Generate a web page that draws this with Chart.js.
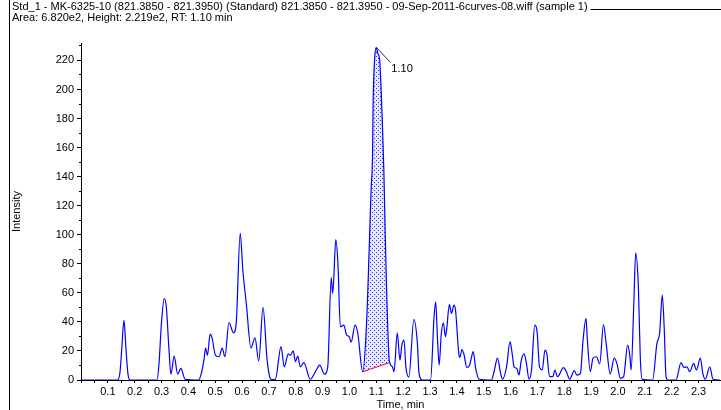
<!DOCTYPE html>
<html><head><meta charset="utf-8">
<script src="https://cdn.jsdelivr.net/npm/chart.js@4.4.0/dist/chart.umd.min.js"></script>
<style>html,body{margin:0;padding:0;background:#fff;overflow:hidden}#wrap{width:721px;height:410px;position:relative}</style>
</head><body><div id="wrap"><canvas id="c" width="721" height="410"></canvas></div>
<script>
const titleLine1 = "Std_1 - MK-6325-10 (821.3850 - 821.3950) (Standard) 821.3850 - 821.3950 - 09-Sep-2011-6curves-08.wiff (sample 1)";
const titleLine2 = "Area: 6.820e2, Height: 2.219e2, RT: 1.10 min";
const xAxisTitle = "Time, min";
const yAxisTitle = "Intensity";
const peakLabel = "1.10";
const peakRT = 1.10;

const times = [0,0.135,0.145,0.152,0.160,0.168,0.175,0.182,0.283,0.290,0.300,0.310,0.318,0.327,0.335,0.347,0.360,0.372,0.388,0.438,0.450,0.458,0.464,0.471,0.481,0.488,0.501,0.514,0.526,0.536,0.551,0.568,0.578,0.593,0.603,0.616,0.633,0.648,0.662,0.678,0.693,0.703,0.710,0.724,0.745,0.757,0.772,0.780,0.790,0.799,0.807,0.817,0.830,0.854,0.873,0.889,0.907,0.919,0.932,0.937,0.941,0.949,0.957,0.966,0.979,0.989,0.999,1.006,1.021,1.031,1.049,1.063,1.081,1.086,1.088,1.094,1.100,1.105,1.112,1.118,1.123,1.128,1.132,1.138,1.147,1.150,1.160,1.166,1.178,1.188,1.195,1.203,1.210,1.221,1.240,1.253,1.259,1.271,1.302,1.315,1.321,1.328,1.334,1.342,1.350,1.357,1.362,1.372,1.380,1.389,1.395,1.407,1.411,1.419,1.426,1.437,1.447,1.452,1.461,1.470,1.483,1.529,1.540,1.551,1.563,1.570,1.585,1.598,1.606,1.613,1.623,1.631,1.640,1.650,1.658,1.669,1.678,1.690,1.698,1.708,1.718,1.728,1.735,1.745,1.757,1.765,1.775,1.797,1.808,1.820,1.837,1.847,1.860,1.870,1.881,1.886,1.897,1.907,1.920,1.932,1.946,1.956,1.971,1.986,1.996,2.009,2.021,2.036,2.044,2.049,2.059,2.066,2.076,2.083,2.090,2.129,2.145,2.155,2.165,2.172,2.179,2.185,2.216,2.235,2.245,2.257,2.267,2.282,2.292,2.307,2.316,2.325,2.342,2.354,2.380];
const intensities = [0,0,5,22,41,20,4,0,0,10,40,56,50,23,4,16.5,4,8,0.5,0,6,14,22,17,31.6,29,17,16,22,16,39.4,32.5,39,101,75,52,22,29,13,50,14,2,0.3,0.5,23,9,18,17,20,12.6,16.5,9,12,0.5,5.7,10.3,4,9,70.6,59.6,68,96.7,80,36.7,37.8,31,29.8,26,37.8,32,5.7,36.7,133,156,190,222,229,225,221,199,174,144,110,64,16,12,9,5.7,32.5,13.7,24,27.5,9,2,41.7,25,4.5,0,0,43.5,53.8,27.5,10.3,32,39.4,29.8,34.8,52,45.8,51.5,48,18.3,15.5,21,18,8.7,10,13.7,19.5,8,0.5,0,7,15,4.5,0.5,9,26.4,18,9,8,3.4,13.7,18,12.6,0.5,7,37.8,34.5,8.7,7,20.6,18.3,2.3,2.3,6.9,2.3,8.5,5.7,0.5,6.4,3.4,4.5,27.5,42.4,27.5,5.7,15,16,11,38.2,25,4.1,15,11.4,1.1,2.3,24,17,6.9,52.7,87.5,64,16,0.5,0,25,32,58.4,36.7,2.3,0,0,12,8.7,9,5.7,11.4,6.9,15,4.5,0.5,9,0.5,0];

const peakStart = 1.049, peakEnd = 1.150;
const baselineTimes = [1.049, 1.150];
const baselineValues = [5.7, 12];
const xMin = 0, xMax = 2.38, xStep = 0.05;
const yMin = 0, yMax = 232, yMajorStep = 20, yMinorStep = 10;

const trace = times.map((t, i) => ({x: t, y: intensities[i]}));
const peakArea = trace.filter(p => p.x >= peakStart - 1e-9 && p.x <= peakEnd + 1e-9);
const baseline = baselineTimes.map((t, i) => ({x: t, y: baselineValues[i]}));

const canvas = document.getElementById('c');
const ctx0 = canvas.getContext('2d');
function dotPattern() {
  const c = document.createElement('canvas'); c.width = 4; c.height = 4;
  const g = c.getContext('2d');
  g.fillStyle = 'rgba(215,215,255,0.6)'; g.fillRect(0, 0, 4, 4);
  g.fillStyle = '#3030ff'; g.fillRect(0, 0, 1, 1); g.fillRect(2, 2, 1, 1);
  return ctx0.createPattern(c, 'repeat');
}

const FONT = '"Liberation Sans", Arial, sans-serif';

const decor = {
  id: 'decor',
  beforeDraw(chart) {
    const ctx = chart.ctx;
    ctx.save();
    ctx.fillStyle = '#fff'; ctx.fillRect(0, 0, chart.width, chart.height);
    ctx.font = '11px ' + FONT;
    ctx.fillStyle = '#000';
    ctx.textBaseline = 'alphabetic';
    const w1 = Math.min(ctx.measureText(titleLine1).width, 586);
    ctx.fillText(titleLine1, 12, 10, 586);
    ctx.fillText(titleLine2, 12, 21, 223);
    ctx.strokeStyle = '#000'; ctx.lineWidth = 1;
    ctx.beginPath();
    ctx.moveTo(9.5, 0); ctx.lineTo(9.5, chart.height);
    ctx.moveTo(12 + w1 + 3, 9.5); ctx.lineTo(chart.width, 9.5);
    ctx.stroke();
    ctx.restore();
  },
  afterDatasetsDraw(chart) {
    const ctx = chart.ctx;
    const xs = chart.scales.x, ys = chart.scales.y;
    let best = 0;
    trace.forEach((p, i) => { if (Math.abs(p.x - peakRT) < Math.abs(trace[best].x - peakRT)) best = i; });
    const px = xs.getPixelForValue(trace[best].x), py = ys.getPixelForValue(trace[best].y);
    ctx.save();
    ctx.strokeStyle = '#333'; ctx.lineWidth = 1;
    ctx.beginPath(); ctx.moveTo(px, py); ctx.lineTo(px + 14, py + 15); ctx.stroke();
    ctx.fillStyle = '#000'; ctx.font = '11px ' + FONT;
    ctx.textBaseline = 'middle';
    ctx.fillText(peakLabel, px + 15, py + 22);
    ctx.restore();
  }
};

new Chart(canvas, {
  type: 'line',
  data: {
    datasets: [
      {data: trace, borderColor: '#0000ff', borderWidth: 1.2, pointRadius: 0, fill: false, cubicInterpolationMode: 'monotone'},
      {data: baseline, borderColor: '#ff0000', borderWidth: 1, pointRadius: 0, fill: false},
      {data: peakArea, borderWidth: 0, borderColor: 'rgba(0,0,0,0)', pointRadius: 0, fill: 1, backgroundColor: dotPattern(), cubicInterpolationMode: 'monotone'}
    ]
  },
  options: {
    responsive: false, animation: false, devicePixelRatio: 1,
    layout: {padding: {top: 43, right: 1, bottom: 0, left: 0}},
    plugins: {legend: {display: false}, tooltip: {enabled: false}, title: {display: false}},
    scales: {
      x: {
        type: 'linear', min: xMin, max: xMax,
        ticks: {
          stepSize: xStep, includeBounds: false, autoSkip: false, maxRotation: 0, minRotation: 0,
          color: '#000', font: {family: FONT, size: 11}, padding: 2,
          callback: v => { const r = Math.round(v * 100); return (r % 10 !== 0 || r === 0) ? '' : (r / 100).toFixed(1); }
        },
        grid: {drawOnChartArea: false, tickLength: 3, tickColor: '#000'},
        border: {color: '#000'},
        title: {display: true, text: xAxisTitle, color: '#000', font: {family: FONT, size: 11, lineHeight: 1}, padding: {top: 0, bottom: 0}},
        afterFit: s => { s.height = 30; }
      },
      y: {
        position: 'left', weight: 1, min: yMin, max: yMax,
        ticks: {stepSize: yMajorStep, includeBounds: false, color: '#000', font: {family: FONT, size: 11}, padding: 3},
        grid: {drawOnChartArea: false, tickLength: 4, tickColor: '#000'},
        border: {color: '#000'},
        title: {display: true, text: yAxisTitle, color: '#000', font: {family: FONT, size: 11, lineHeight: 1}, padding: {top: 11, bottom: 0}},
        afterFit: s => { s.width = 81; }
      },
      y2: {
        position: 'left', weight: 0, min: yMin, max: yMax,
        ticks: {stepSize: yMinorStep, includeBounds: false, display: false},
        grid: {drawOnChartArea: false, tickLength: 2, tickColor: '#000'},
        border: {color: '#000'},
        afterFit: s => { s.width = 0; }
      }
    }
  },
  plugins: [decor]
});
</script></body></html>
